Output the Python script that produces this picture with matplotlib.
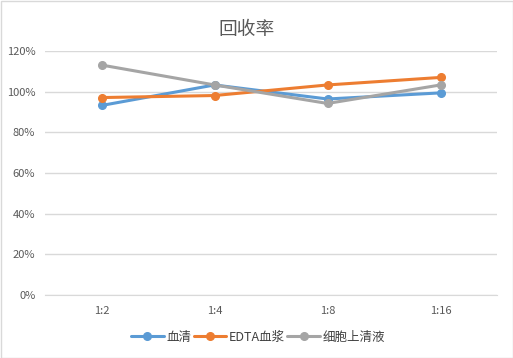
import matplotlib
matplotlib.use("Agg")
import matplotlib.pyplot as plt
from matplotlib.ticker import FuncFormatter

plt.rcParams['font.family'] = ['Noto Sans CJK SC', 'DejaVu Sans']

categories = ["1:2", "1:4", "1:8", "1:16"]
serum = [93.2, 103.3, 96.4, 99.4]
edta = [97.1, 98.1, 103.3, 107.0]
cell = [113.1, 103.3, 94.2, 103.3]
series_names = ["血清", "EDTA血浆", "细胞上清液"]
colors = ["#5b9bd5", "#ed7d31", "#a5a5a5"]

fig = plt.figure(figsize=(5.13, 3.58), dpi=100)
ax = fig.add_axes([45/513, 1-295/358, 452/513, 244/358])

x = range(len(categories))
for vals, name, c in zip([serum, edta, cell], series_names, colors):
    ax.plot(x, vals, color=c, lw=2.2, marker='o', ms=5.5, label=name, solid_capstyle='round')

ax.set_xlim(-0.5, 3.5)
ax.set_ylim(0, 120)
ax.set_yticks(range(0, 121, 20))
ax.yaxis.set_major_formatter(FuncFormatter(lambda v, p: f"{int(v)}%"))
ax.set_xticks(list(x))
ax.set_xticklabels(categories)
ax.grid(axis='y', color='#d9d9d9', lw=1)
ax.set_axisbelow(True)
for s in ax.spines.values():
    s.set_visible(False)
ax.spines['bottom'].set_visible(True)
ax.spines['bottom'].set_color('#d9d9d9')
ax.tick_params(length=0, colors='#595959', labelsize=8)
ax.tick_params(axis='x', pad=8)
ax.tick_params(axis='y', pad=7)

fig.text(247/513, 1-30/358, "回收率", ha='center', va='center', fontsize=13.5, color='#595959')

leg = fig.legend(loc='center', bbox_to_anchor=(258/513, 1-337/358), ncol=3, frameon=False,
                 fontsize=9, handlelength=2.6, columnspacing=0.2, handletextpad=0.2)
for t in leg.get_texts():
    t.set_color('#404040')

fig.patches.append(matplotlib.patches.Rectangle((0.5/513, 0.5/358), 1-1/513, 1-1/358, transform=fig.transFigure,
                                                fill=False, edgecolor='#d9d9d9', lw=1))
fig.savefig("out.png", dpi=100)
